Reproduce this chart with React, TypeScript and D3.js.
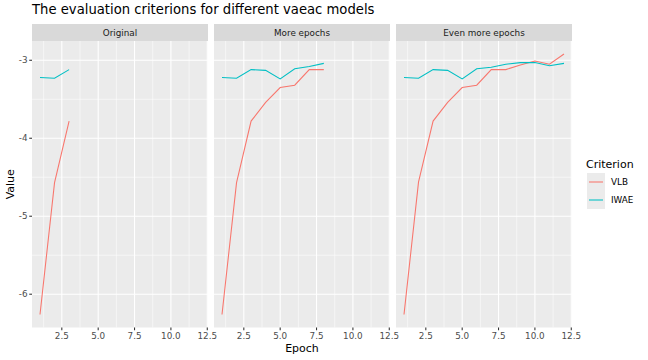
import React from "react";
import * as d3 from "d3";

const panels = ["Original", "More epochs", "Even more epochs"];
const criteria = ["VLB", "IWAE"];
const colors = ["#F8766D", "#00BFC4"];

const vlbOriginal = [-6.26, -4.57, -3.78];
const iwaeOriginal = [-3.22, -3.23, -3.12];
const vlbMore = [-6.26, -4.57, -3.78, -3.54, -3.35, -3.32, -3.12, -3.12];
const iwaeMore = [-3.22, -3.23, -3.12, -3.13, -3.24, -3.11, -3.08, -3.04];
const vlbEvenMore = [-6.26, -4.56, -3.78, -3.54, -3.35, -3.32, -3.12, -3.12, -3.06, -3.01, -3.05, -2.92];
const iwaeEvenMore = [-3.22, -3.23, -3.12, -3.13, -3.24, -3.11, -3.09, -3.05, -3.03, -3.03, -3.07, -3.04];

const xTicks = [2.5, 5.0, 7.5, 10.0, 12.5];
const yTicks = [-3, -4, -5, -6];
const xMinor = [1.25, 3.75, 6.25, 8.75, 11.25];
const yMinor = [-3.5, -4.5, -5.5];

const series = [
  [vlbOriginal, iwaeOriginal],
  [vlbMore, iwaeMore],
  [vlbEvenMore, iwaeEvenMore],
];

export default function App() {
  const W = 648, H = 360;
  const panelW = 176, gap = 6, left = 32;
  const stripTop = 24, stripH = 17;
  const top = 41, bottom = 327.5;
  const font = "DejaVu Sans, sans-serif";

  const allVals = series.flat(2);
  const yMin = d3.min(allVals)!, yMax = d3.max(allVals)!;
  const yPad = (yMax - yMin) * 0.05;
  const y = d3.scaleLinear().domain([yMin - yPad, yMax + yPad]).range([bottom, top]);
  const xPad = (12 - 1) * 0.05;

  return (
    <svg width={W} height={H} style={{ position: "absolute", left: 0, top: 0, background: "#fff" }} fontFamily={font}>
      <rect width={W} height={H} fill="#fff" />
      <text x={32} y={14} fontSize={13.2} fill="#000">The evaluation criterions for different vaeac models</text>
      {panels.map((p, i) => {
        const x0 = left + i * (panelW + gap);
        const x = d3.scaleLinear().domain([1 - xPad, 12 + xPad]).range([x0, x0 + panelW]);
        const line = d3.line<number>().x((_, j) => x(j + 1)).y((v) => y(v));
        return (
          <g key={p}>
            <rect x={x0} y={stripTop} width={panelW} height={stripH} fill="#D9D9D9" />
            <text x={x0 + panelW / 2} y={stripTop + stripH / 2 + 3} fontSize={8.8} textAnchor="middle" fill="#1A1A1A">{p}</text>
            <rect x={x0} y={top} width={panelW} height={bottom - top} fill="#EBEBEB" />
            {xMinor.map((t) => (
              <line key={"xm" + t} x1={x(t)} x2={x(t)} y1={top} y2={bottom} stroke="#fff" strokeWidth={0.55} />
            ))}
            {yMinor.map((t) => (
              <line key={"ym" + t} x1={x0} x2={x0 + panelW} y1={y(t)} y2={y(t)} stroke="#fff" strokeWidth={0.55} />
            ))}
            {xTicks.map((t) => (
              <line key={"xM" + t} x1={x(t)} x2={x(t)} y1={top} y2={bottom} stroke="#fff" strokeWidth={1.1} />
            ))}
            {yTicks.map((t) => (
              <line key={"yM" + t} x1={x0} x2={x0 + panelW} y1={y(t)} y2={y(t)} stroke="#fff" strokeWidth={1.1} />
            ))}
            {series[i].map((s, k) => (
              <path key={k} d={line(s)!} fill="none" stroke={colors[k]} strokeWidth={1.07} />
            ))}
            {xTicks.map((t) => (
              <g key={"xt" + t}>
                <line x1={x(t)} x2={x(t)} y1={bottom} y2={bottom + 2.75} stroke="#333" strokeWidth={1.07} />
                <text x={x(t)} y={bottom + 11} fontSize={8.8} textAnchor="middle" fill="#4D4D4D">{t.toFixed(1)}</text>
              </g>
            ))}
          </g>
        );
      })}
      {yTicks.map((t) => (
        <g key={"yt" + t}>
          <line x1={left - 2.75} x2={left} y1={y(t)} y2={y(t)} stroke="#333" strokeWidth={1.07} />
          <text x={left - 4.5} y={y(t) + 3.1} fontSize={8.8} textAnchor="end" fill="#4D4D4D">{t}</text>
        </g>
      ))}
      <text x={left + (3 * panelW + 2 * gap) / 2} y={352} fontSize={11} textAnchor="middle" fill="#000">Epoch</text>
      <text transform={`translate(14,${(top + bottom) / 2}) rotate(-90)`} fontSize={11} textAnchor="middle" fill="#000">Value</text>
      <g>
        <text x={586} y={168} fontSize={11} fill="#000">Criterion</text>
        {criteria.map((c, k) => (
          <g key={c}>
            <rect x={587} y={173 + k * 18} width={18} height={18} fill="#EBEBEB" />
            <line x1={589} x2={603} y1={182 + k * 18} y2={182 + k * 18} stroke={colors[k]} strokeWidth={1.07} />
            <text x={611} y={185 + k * 18} fontSize={8.8} fill="#000">{c}</text>
          </g>
        ))}
      </g>
    </svg>
  );
}
